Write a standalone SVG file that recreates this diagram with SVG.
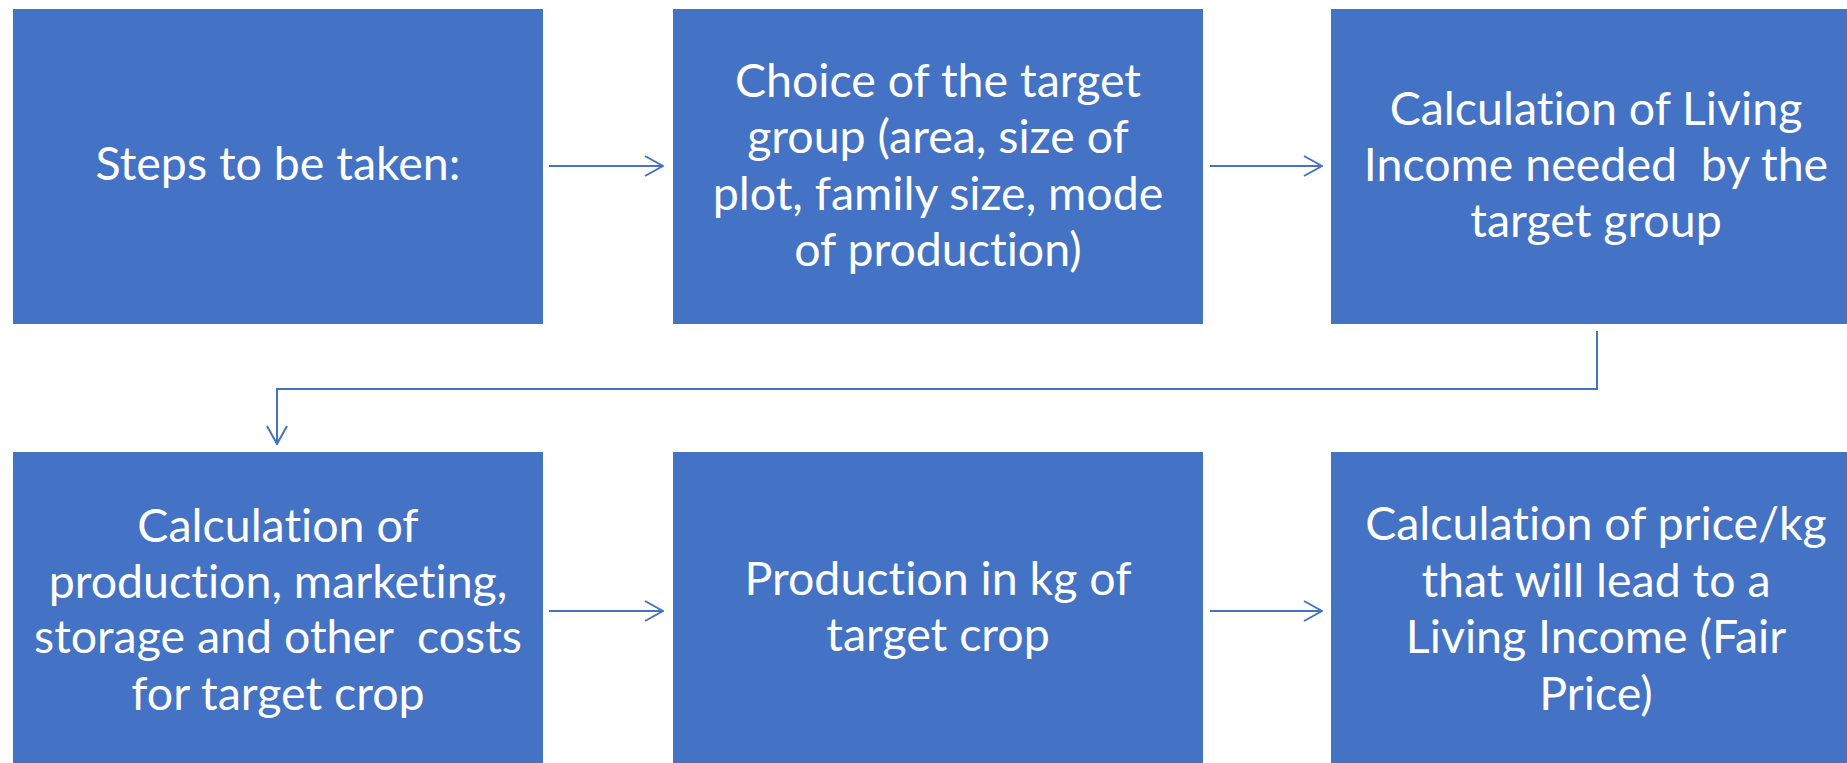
<svg xmlns="http://www.w3.org/2000/svg" width="1847" height="763" viewBox="0 0 1847 763">
  <style>
    .box { fill: #4472C4; }
    .lbl { font-family: Lato, "Open Sans", sans-serif; font-size: 46.5px; fill: #FFFFFF; text-anchor: middle; white-space: pre; font-variant-ligatures: none; font-feature-settings: "liga" 0, "dlig" 0; }
    .link { fill: none; stroke: #4472C4; stroke-width: 2; }
  </style>
  <defs>
    <marker id="arrow" viewBox="0 0 20 22" refX="19" refY="11" markerWidth="20" markerHeight="22" markerUnits="userSpaceOnUse" orient="auto">
      <path d="M1,1 L19,11 L1,21" fill="none" stroke="#4472C4" stroke-width="2"/>
    </marker>
  </defs>
  <rect width="1847" height="763" fill="#FFFFFF"/>

  <g id="node-steps">
    <rect class="box" x="13" y="9" width="530" height="315"/>
    <text class="lbl" x="278" y="180">Steps to be taken:</text>
  </g>

  <g id="node-target-group">
    <rect class="box" x="673" y="9" width="530" height="315"/>
    <text class="lbl" x="938" y="97">Choice of the target</text>
    <text class="lbl" x="938" y="153">group (area, size of</text>
    <text class="lbl" x="938" y="210">plot, family size, mode</text>
    <text class="lbl" x="938" y="266">of production)</text>
  </g>

  <g id="node-living-income">
    <rect class="box" x="1331" y="9" width="530" height="315"/>
    <text class="lbl" x="1596" y="125">Calculation of Living</text>
    <text class="lbl" x="1596" y="181">Income needed  by the</text>
    <text class="lbl" x="1596" y="237">target group</text>
  </g>

  <g id="node-costs">
    <rect class="box" x="13" y="452" width="530" height="315"/>
    <text class="lbl" x="278" y="542">Calculation of</text>
    <text class="lbl" x="278" y="598">production, marketing,</text>
    <text class="lbl" x="278" y="653">storage and other  costs</text>
    <text class="lbl" x="278" y="710">for target crop</text>
  </g>

  <g id="node-production">
    <rect class="box" x="673" y="452" width="530" height="315"/>
    <text class="lbl" x="938" y="595">Production in kg of</text>
    <text class="lbl" x="938" y="651">target crop</text>
  </g>

  <g id="node-fair-price">
    <rect class="box" x="1331" y="452" width="530" height="315"/>
    <text class="lbl" x="1596" y="540">Calculation of price/kg</text>
    <text class="lbl" x="1596" y="597">that will lead to a</text>
    <text class="lbl" x="1596" y="653">Living Income (Fair</text>
    <text class="lbl" x="1596" y="710">Price)</text>
  </g>

  <g id="connectors">
    <line class="link" x1="549" y1="166" x2="663" y2="166" marker-end="url(#arrow)"/>
    <line class="link" x1="1210" y1="166" x2="1322" y2="166" marker-end="url(#arrow)"/>
    <polyline class="link" points="1597,331 1597,389 277,389 277,444" marker-end="url(#arrow)"/>
    <line class="link" x1="549" y1="611" x2="663" y2="611" marker-end="url(#arrow)"/>
    <line class="link" x1="1210" y1="611" x2="1322" y2="611" marker-end="url(#arrow)"/>
  </g>
</svg>
